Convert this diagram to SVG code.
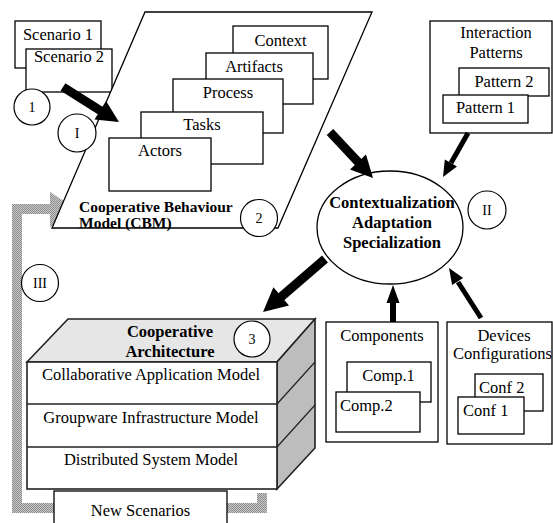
<svg xmlns="http://www.w3.org/2000/svg" width="553" height="523" viewBox="0 0 553 523" font-family="'Liberation Serif', 'DejaVu Serif', serif">
<defs>
<pattern id="dither" width="2" height="2" patternUnits="userSpaceOnUse"><rect width="2" height="2" fill="#cacaca"/><rect width="1" height="1" fill="#8c8c8c"/><rect x="1" y="1" width="1" height="1" fill="#8c8c8c"/></pattern>
</defs>
<style>
.b{fill:#fff;stroke:#000;stroke-width:1.3}
.c{fill:#fff;stroke:#000;stroke-width:1.2}
text{font-family:'Liberation Serif','DejaVu Serif',serif}
.t{font-size:16.5px;fill:#000}
.bt{font-size:16.5px;font-weight:bold;fill:#000}
.m{text-anchor:middle}
.sh{stroke:#000;fill:none}
.hd{fill:#000;stroke:none}
</style>
<rect width="553" height="523" fill="#fff"/>

<g id="feedback">
<path d="M262,493 V508 H17 V209 H52" fill="none" stroke="url(#dither)" stroke-width="10" stroke-linejoin="miter"/>
<polygon points="50,192 77,209.5 50,227" fill="url(#dither)"/>
</g>

<g id="scenarios">
<rect class="b" x="15" y="21" width="86" height="47"/>
<text class="t m" x="58" y="40">Scenario 1</text>
<rect class="b" x="26" y="49" width="86" height="43"/>
<text class="t m" x="69" y="62">Scenario 2</text>
</g>
<g id="c1"><circle class="c" cx="32" cy="107" r="18"/><text class="t m" x="32" y="112" style="font-size:14px">1</text></g>

<g id="cbm">
<polygon class="b" points="145,12 372,12 278,228 52,228"/>
<rect class="b" x="233" y="26" width="95" height="53"/>
<text class="t m" x="280.5" y="46">Context</text>
<rect class="b" x="206" y="53" width="107" height="51"/>
<text class="t m" x="254" y="72">Artifacts</text>
<rect class="b" x="173" y="79" width="110" height="54"/>
<text class="t m" x="228" y="98">Process</text>
<rect class="b" x="141" y="112" width="122" height="52"/>
<text class="t m" x="202" y="130">Tasks</text>
<rect class="b" x="109" y="138" width="102" height="53"/>
<text class="t m" x="160" y="156">Actors</text>
<text class="bt" x="79" y="212" style="font-size:15.5px">Cooperative Behaviour</text>
<text class="bt" x="79" y="228" style="font-size:15.5px">Model (CBM)</text>
</g>
<g id="c2"><circle class="c" cx="259" cy="218" r="18.5"/><text class="t m" x="259" y="223" style="font-size:14px">2</text></g>
<g id="cI"><circle class="c" cx="77" cy="133" r="19"/><text class="t m" x="77" y="138" style="font-size:14px">I</text></g>

<g id="patterns">
<rect class="b" x="430" y="21" width="122" height="112"/>
<text class="t m" x="496" y="38">Interaction</text>
<text class="t m" x="496" y="58">Patterns</text>
<rect class="b" x="459" y="68" width="90" height="28"/>
<text class="t m" x="504" y="87">Pattern 2</text>
<rect class="b" x="443" y="95" width="85" height="28"/>
<text class="t m" x="485.5" y="113">Pattern 1</text>
</g>

<g id="context">
<ellipse class="b" cx="390" cy="227.5" rx="73" ry="56.5"/>
<text class="bt m" x="392" y="208">Contextualization</text>
<text class="bt m" x="392" y="228">Adaptation</text>
<text class="bt m" x="392" y="248">Specialization</text>
</g>
<g id="cII"><circle class="c" cx="487" cy="210" r="19"/><text class="t m" x="487" y="215" style="font-size:14px">II</text></g>
<g id="cIII"><circle class="c" cx="40" cy="283" r="18.5"/><text class="t m" x="40" y="288" style="font-size:14px">III</text></g>

<g id="architecture">
<polygon points="27,362 68,319 315,319 277,362" fill="#e6e6e6" stroke="#222" stroke-width="1.6"/>
<polygon points="277,362 315,319 315,448 277,489" fill="#bdbdbd" stroke="#222" stroke-width="1.6"/>
<line x1="277" y1="404" x2="315" y2="362" stroke="#222" stroke-width="1.2"/>
<line x1="277" y1="447" x2="315" y2="405" stroke="#222" stroke-width="1.2"/>
<rect x="27" y="362" width="250" height="127" fill="#fff" stroke="#222" stroke-width="1.6"/>
<line x1="27" y1="404" x2="277" y2="404" stroke="#222" stroke-width="1.4"/>
<line x1="27" y1="447" x2="277" y2="447" stroke="#222" stroke-width="1.4"/>
<text class="bt m" x="170" y="337">Cooperative</text>
<text class="bt m" x="170" y="357">Architecture</text>
<text class="t m" x="151" y="380">Collaborative Application Model</text>
<text class="t m" x="151" y="423">Groupware Infrastructure Model</text>
<text class="t m" x="151" y="465">Distributed System Model</text>
</g>
<g id="c3"><circle class="c" cx="252" cy="339" r="18"/><text class="t m" x="252" y="344" style="font-size:14px">3</text></g>

<g id="newscenarios">
<rect class="b" x="54" y="491" width="173" height="40"/>
<text class="t m" x="140.5" y="516">New Scenarios</text>
</g>

<g id="components">
<rect class="b" x="326" y="322" width="112" height="120"/>
<text class="t m" x="382" y="341">Components</text>
<rect class="b" x="347" y="362" width="84" height="40"/>
<text class="t m" x="388.5" y="381">Comp.1</text>
<rect class="b" x="336" y="392" width="84" height="40"/>
<text class="t" x="340" y="411">Comp.2</text>
</g>

<g id="devices">
<rect class="b" x="447" y="322" width="105" height="122"/>
<text class="t m" x="504" y="341">Devices</text>
<text class="t" x="453" y="359">Configurations</text>
<rect class="b" x="475" y="374" width="68" height="37"/>
<text class="t" x="479" y="393">Conf 2</text>
<rect class="b" x="458" y="397" width="66" height="37"/>
<text class="t" x="463" y="416">Conf 1</text>
</g>

<g id="connectors">
<line class="sh" x1="63" y1="87" x2="101" y2="111" stroke-width="9"/>
<polygon class="hd" points="119,122 94.5,119.6 106.1,101"/>
<line class="sh" x1="330" y1="132" x2="359" y2="163" stroke-width="9"/>
<polygon class="hd" points="373,178 350,169.5 366,154.5"/>
<line class="sh" x1="468" y1="133" x2="451" y2="163" stroke-width="5"/>
<polygon class="hd" points="443,177 444.8,159.6 457,166.6"/>
<line class="sh" x1="325" y1="259" x2="281" y2="297" stroke-width="9"/>
<polygon class="hd" points="263,312 289,305.5 273.4,287.3"/>
<line class="sh" x1="393" y1="322" x2="393" y2="302" stroke-width="6"/>
<polygon class="hd" points="393,285 386.5,303 399.5,303"/>
<line class="sh" x1="481" y1="318" x2="458" y2="282" stroke-width="5"/>
<polygon class="hd" points="449,268 463.1,278 452.1,285"/>
</g>
</svg>
